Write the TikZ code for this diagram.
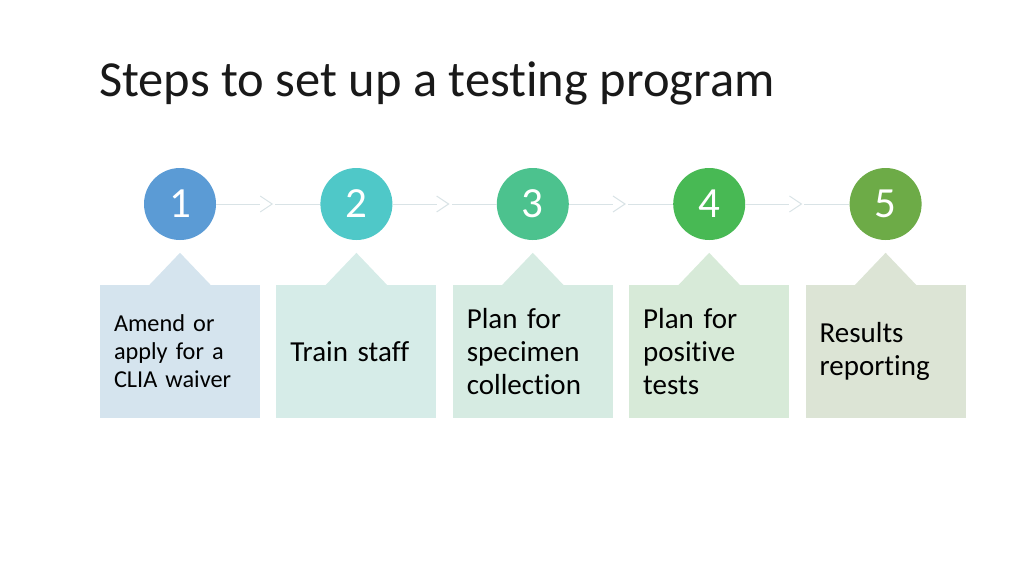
\documentclass[tikz,border=0pt]{standalone}
\usepackage{fontspec}
\setmainfont{Carlito}[Ligatures=NoCommon]
\usetikzlibrary{calc, positioning, decorations.markings}

\definecolor{circA}{HTML}{5B9BD5}
\definecolor{circB}{HTML}{4FC8C8}
\definecolor{circC}{HTML}{4CC28E}
\definecolor{circD}{HTML}{48B954}
\definecolor{circE}{HTML}{6DAB47}
\definecolor{boxA}{HTML}{D5E4EE}
\definecolor{boxB}{HTML}{D6ECE8}
\definecolor{boxC}{HTML}{D6EBE2}
\definecolor{boxD}{HTML}{D7EAD8}
\definecolor{boxE}{HTML}{DCE4D5}
\definecolor{linkgray}{HTML}{D9E3E6}

\tikzset{
  stepcirc/.style={circle, minimum size=72pt, inner sep=0pt, text=white,
    font=\fontsize{43}{43}\selectfont},
  stepbox/.style={rectangle, minimum width=160pt, minimum height=133pt,
    text width=132pt, inner sep=14pt, align=left},
  bigtext/.style={font=\fontsize{29}{33}\selectfont},
  smalltext/.style={font=\fontsize{24.3}{28}\selectfont},
  link/.style={draw=linkgray, line width=1pt, postaction={decorate},
    decoration={markings, mark=at position 0.5 with {
      \fill[white] (-8pt,-3pt) rectangle (7pt,3pt);
      \draw[linkgray, line width=1pt] (-8pt,-8pt) -- (4pt,0pt) -- (-8pt,8pt);}}}
}

\begin{document}
\begin{tikzpicture}[x=1pt, y=-1pt]
\useasboundingbox (0,0) rectangle (1024,576);

% Title
\node[anchor=base west, inner sep=0pt, text=black!90, font=\fontsize{50.5}{50.5}\selectfont] (title) at (99,96) {Steps to set up a testing program};

% Steps: circle, pointer and box
\foreach \i/\col/\bg/\sz/\txt in {
  1/circA/boxA/smalltext/{Amend or\\apply for a\\CLIA waiver},
  2/circB/boxB/bigtext/{Train staff},
  3/circC/boxC/bigtext/{Plan for\\specimen\\collection},
  4/circD/boxD/bigtext/{Plan for\\positive\\tests},
  5/circE/boxE/bigtext/{Results\\reporting}} {
    \node[stepcirc, fill=\col] (c\i) at ({180+(\i-1)*176.4},204) {\i};
    \node[stepbox, fill=\bg, \sz] (b\i) at ({180+(\i-1)*176.4},351.5) {\txt};
    \fill[\bg] ($(b\i.north)+(-31,0.5)$) -- ($(b\i.north)+(0,-32)$) -- ($(b\i.north)+(31,0.5)$) -- cycle;
}

% Links between circles
\foreach \i [evaluate=\i as \j using int(\i+1)] in {1,...,4}
    \draw[link] (c\i) -- (c\j);
\end{tikzpicture}
\end{document}
